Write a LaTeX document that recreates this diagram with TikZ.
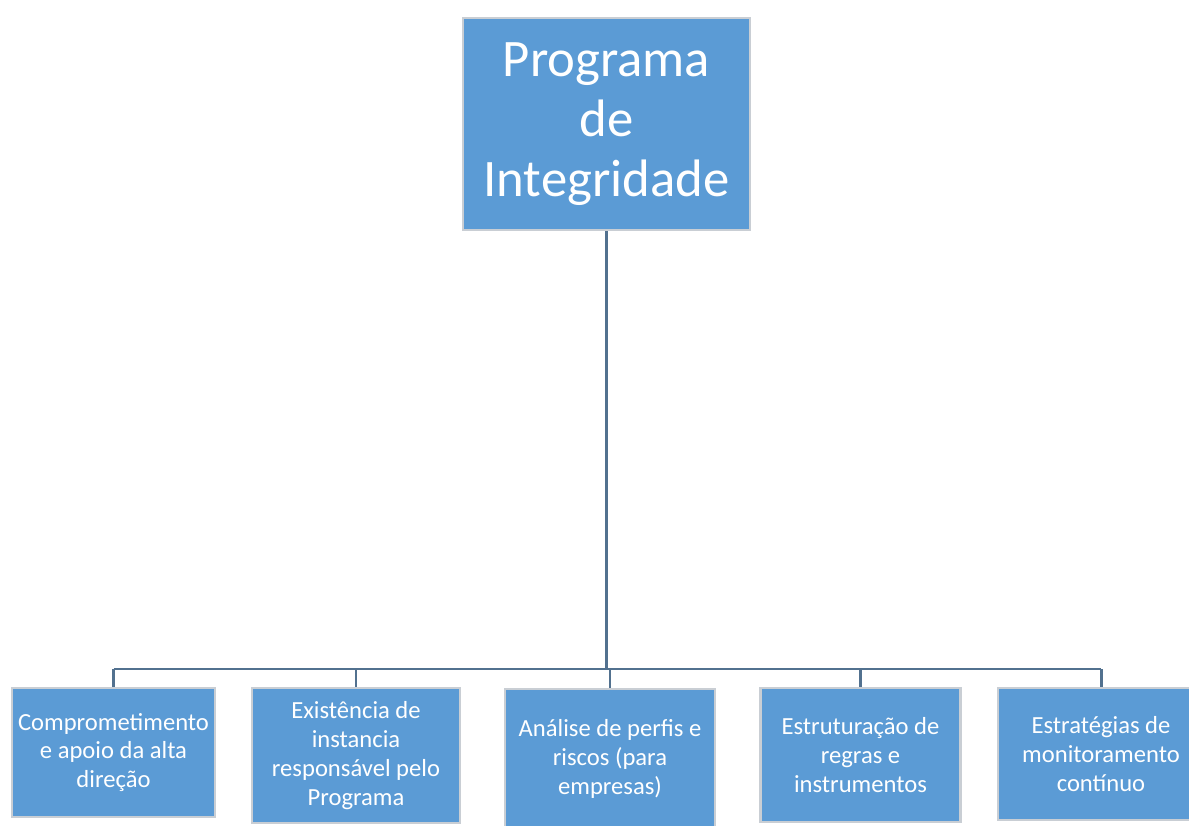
\documentclass[tikz,border=0pt]{standalone}
\usepackage{fontspec}
\setmainfont{Carlito}
\definecolor{boxblue}{HTML}{5B9BD5}
\definecolor{boxedge}{HTML}{C9CED4}
\definecolor{linkgray}{HTML}{52718F}
\begin{document}
\begin{tikzpicture}[
    topbox/.style={rectangle, draw=boxedge, line width=1.4pt, fill=boxblue, text=white, align=center, minimum width=5.74cm, minimum height=4.24cm, font=\fontsize{30}{34}\selectfont},
    pillar/.style={rectangle, draw=boxedge, line width=1.4pt, fill=boxblue, text=white, align=center, inner sep=0pt, font=\fontsize{14}{16.4}\selectfont},
    link/.style={draw=linkgray, line width=1.7pt}
]
    \useasboundingbox (0,0) rectangle (23.78,-16.52);

    % Main box
    \node[topbox] (prog) at (12.13,-2.48) {Programa\\de\\Integridade};

    % Pillars
    \node[pillar, minimum width=4.06cm, minimum height=2.58cm] (compromisso) at (2.27,-15.05) {Comprometimento\\e apoio da alta\\direção};
    \node[pillar, minimum width=4.16cm, minimum height=2.70cm] (instancia) at (7.12,-15.11) {Existência de\\instancia\\responsável pelo\\Programa};
    \node[pillar, minimum width=4.20cm, minimum height=2.80cm] (riscos) at (12.20,-15.18) {Análise de perfis e\\riscos (para\\empresas)};
    \node[pillar, minimum width=4.00cm, minimum height=2.68cm] (regras) at (17.21,-15.10) {Estruturação de\\regras e\\instrumentos};
    \node[pillar, minimum width=4.12cm, minimum height=2.64cm] (monitor) at (22.02,-15.08) {Estratégias de\\monitoramento\\contínuo};

    % Connectors
    \coordinate (bar) at (0,-13.38);
    \draw[link] (prog.south) -- (prog.south |- bar);
    \draw[link] (compromisso.north |- bar) -- (monitor.north |- bar);
    \draw[link] (compromisso.north) -- (compromisso.north |- bar);
    \draw[link] (instancia.north) -- (instancia.north |- bar);
    \draw[link] (riscos.north) -- (riscos.north |- bar);
    \draw[link] (regras.north) -- (regras.north |- bar);
    \draw[link] (monitor.north) -- (monitor.north |- bar);

\end{tikzpicture}
\end{document}
